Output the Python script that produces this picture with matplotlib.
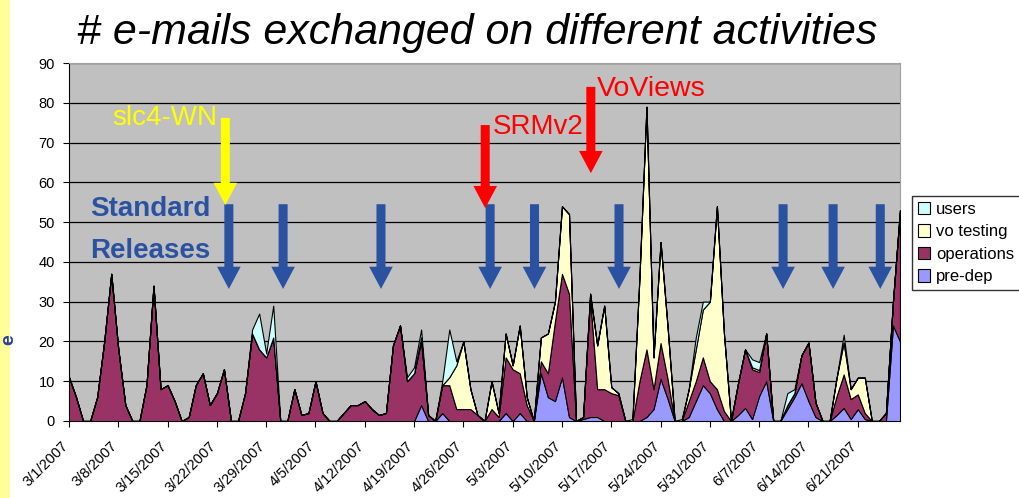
import numpy as np
import matplotlib
matplotlib.use("Agg")
from matplotlib import pyplot as plt
from matplotlib.patches import Rectangle
from matplotlib.transforms import ScaledTranslation

plt.rcParams['font.family'] = ['Liberation Sans', 'DejaVu Sans']

# daily counts 3/1/2007 .. 6/27/2007
pre_dep = [0, 0, 0, 0, 0, 0, 0,
           0, 0, 0, 0, 0, 0, 0,
           0, 0, 0, 0, 0, 0, 0,
           0, 0, 0, 0, 0, 0, 0,
           0, 0, 0, 0, 0, 0, 0,
           0, 0, 0, 0, 0, 0, 0,
           0, 0, 0, 0, 0, 0, 0,
           0, 4, 0, 0, 2, 0, 0,
           0, 0, 0, 0, 0, 0, 2,
           0, 2, 0, 0, 12, 6, 5,
           11, 1, 0, 0.5, 1, 1, 0,
           0, 0, 0, 0, 0, 1, 3,
           10.6, 5.6, 0, 0, 1, 5, 9,
           7, 3, 0, 0, 1.5, 3.3, 0.5,
           6.3, 10, 0, 0, 3, 6, 9.5,
           5, 1, 0, 0, 1.5, 3.3, 0.5,
           3, 0.5, 0, 0, 0, 24, 20]
operations = [11, 6, 0, 0, 6, 20, 37,
              18, 4, 0, 0, 9, 34, 8,
              9, 5, 0, 1, 9, 12, 4,
              7, 13, 0, 0, 7, 22, 18,
              16, 21, 0, 0, 8, 1.5, 2,
              10, 2, 0, 0, 2, 4, 4,
              5, 3, 1.5, 2, 19, 24, 10,
              12, 16, 1.5, 0, 7, 9, 3,
              3, 3, 1.5, 0, 3, 1, 14,
              13, 10, 4, 0, 3, 6, 20,
              26, 31, 0, 0.5, 30, 7, 8,
              7, 6.5, 0, 0, 10, 17, 5,
              9, 5, 0, 0, 4, 5, 7,
              3, 5, 2.5, 0, 8, 14.7, 12.5,
              6, 12, 0, 0, 1, 1, 7,
              14.7, 3.6, 0, 0, 4.8, 8.4, 5,
              3.7, 1.5, 0, 0, 2, 6, 33]
vo_testing = [0] * 49 + [
              0, 1, 0, 0, 0, 2, 11,
              17, 5, 0, 0, 7, 1, 6,
              1, 12, 2, 0, 6, 10, 5,
              17, 20, 0, 0, 1, 11, 21,
              1.5, 0.5, 0, 0, 26, 61, 8,
              25.4, 13, 0, 0, 3, 8, 12,
              20, 46, 19.5, 0, 0, 0, 0.5,
              0.5, 0, 0, 0, 0, 0, 0,
              0, 0, 0, 0, 4.6, 8, 2.5,
              4.2, 8.9, 0, 0, 0, 0, 0]
users = [0, 0, 0, 0, 0, 0, 0,
         0, 0, 0, 0, 0, 0, 0,
         0, 0, 0, 0, 0, 0, 0,
         0, 0, 0, 0, 0, 1, 9,
         1, 8, 0, 0, 0, 0, 0,
         0, 0, 0, 0, 0, 0, 0,
         0, 0, 0, 0, 0, 0, 1,
         1.5, 2, 0, 0, 1, 12, 1,
         0, 0, 0, 0, 0, 0, 0,
         0, 0, 0, 0, 0, 0, 0,
         0, 0, 0, 0, 0, 0, 0,
         0, 0, 0, 0.5, 0, 0, 0,
         0, 0, 0, 0.5, 0, 3, 2,
         0, 0, 0, 0, 0, 0, 2,
         2, 0, 0, 0, 3, 1, 0,
         0, 0, 0, 0, 0, 2, 0,
         0, 0, 0, 0, 0, 0, 0]

tick_labels = ['3/1/2007', '3/8/2007', '3/15/2007', '3/22/2007', '3/29/2007',
               '4/5/2007', '4/12/2007', '4/19/2007', '4/26/2007', '5/3/2007',
               '5/10/2007', '5/17/2007', '5/24/2007', '5/31/2007', '6/7/2007',
               '6/14/2007', '6/21/2007']

# arrow positions (day index) for standard releases
release_days = [22.7, 30.4, 44.3, 59.8, 66.1, 78.1, 101.4, 108.5, 115.2]

days = np.arange(len(operations))

fig = plt.figure(figsize=(10.19, 4.98), dpi=100, facecolor='white')
fig.patches.append(Rectangle((0, 0), 10 / 1019, 1, transform=fig.transFigure,
                             facecolor='#FFFF99', edgecolor='none'))
fig.text(0.0, 1 - 340 / 498, 'e', color='#2B3F9E', fontsize=14, rotation=90,
         ha='left', va='center', fontweight='bold')

ax = fig.add_axes([69 / 1019, 1 - 421 / 498, 831 / 1019, 358 / 498])
ax.set_facecolor('#C0C0C0')

ax.stackplot(days, pre_dep, operations, vo_testing, users,
             colors=['#9999FF', '#993366', '#FFFFCC', '#CCFFFF'],
             labels=['pre-dep', 'operations', 'vo testing', 'users'],
             edgecolor='black', linewidth=0.8, zorder=3)

ax.set_xlim(0, len(days) - 1)
ax.set_ylim(0, 90)
ax.set_yticks(np.arange(0, 91, 10))
ax.yaxis.grid(True, color='black', linewidth=0.9, zorder=1)
ax.set_axisbelow(True)
ax.set_xticks(np.arange(len(tick_labels)) * 7)
ax.set_xticklabels(tick_labels, rotation=45, ha='right', rotation_mode='anchor')
ax.tick_params(axis='both', length=4, direction='out', color='black')
ax.tick_params(axis='y', pad=6, labelsize=10.5)
ax.tick_params(axis='x', pad=9, labelsize=10.5)
shift = ScaledTranslation(-8 / 100, 0, fig.dpi_scale_trans)
for lab in ax.get_xticklabels():
    lab.set_transform(lab.get_transform() + shift)
for s in ['top', 'right']:
    ax.spines[s].set_color('#A0A0A0')
for s in ['left', 'bottom']:
    ax.spines[s].set_color('black')

# legend (reversed order like excel)
h, l = ax.get_legend_handles_labels()
leg = fig.legend(h[::-1], l[::-1], loc='upper left',
                 bbox_to_anchor=(912 / 1019, 1 - 196 / 498),
                 frameon=True, fancybox=False, edgecolor='black', fontsize=12,
                 handlelength=0.75, handleheight=0.75, handletextpad=0.35,
                 borderpad=0.35, labelspacing=0.45, borderaxespad=0)
for p in leg.get_patches():
    p.set_edgecolor('black')
    p.set_linewidth(0.8)

fig.text(477 / 1019, 1 - 33 / 498, '# e-mails exchanged on different activities',
         fontsize=31, style='italic', ha='center', va='center')

blue = '#2B52A0'
arr = dict(width=6.5, headwidth=17, headlength=16, shrink=0, linewidth=0)
for d in release_days:
    ax.annotate('', xy=(d, 33.2), xytext=(d, 54.5),
                arrowprops=dict(arr, facecolor=blue, edgecolor=blue), zorder=5)

ax.annotate('', xy=(22.2, 54.3), xytext=(22.2, 76.2),
            arrowprops=dict(arr, facecolor='#FFFF00', edgecolor='#FFFF00'), zorder=5)
ax.text(21.0, 76.2, 'slc4-WN', color='#FFFF00', fontsize=20, ha='right', va='center', zorder=5)

ax.text(3.0, 53.3, 'Standard', color=blue, fontsize=20, fontweight='bold',
        ha='left', va='center', zorder=5)
ax.text(3.0, 42.7, 'Releases', color=blue, fontsize=20, fontweight='bold',
        ha='left', va='center', zorder=5)

ax.annotate('', xy=(59.1, 53.5), xytext=(59.1, 74.4),
            arrowprops=dict(arr, facecolor='#FF0000', edgecolor='#FF0000'), zorder=5)
ax.text(60.2, 73.8, 'SRMv2', color='#FF0000', fontsize=20, ha='left', va='center', zorder=5)

ax.annotate('', xy=(74.1, 62.3), xytext=(74.1, 84.0),
            arrowprops=dict(arr, facecolor='#FF0000', edgecolor='#FF0000'), zorder=5)
ax.text(75.0, 83.5, 'VoViews', color='#FF0000', fontsize=20.5, ha='left', va='center', zorder=5)

fig.savefig('out.png', dpi=100)
